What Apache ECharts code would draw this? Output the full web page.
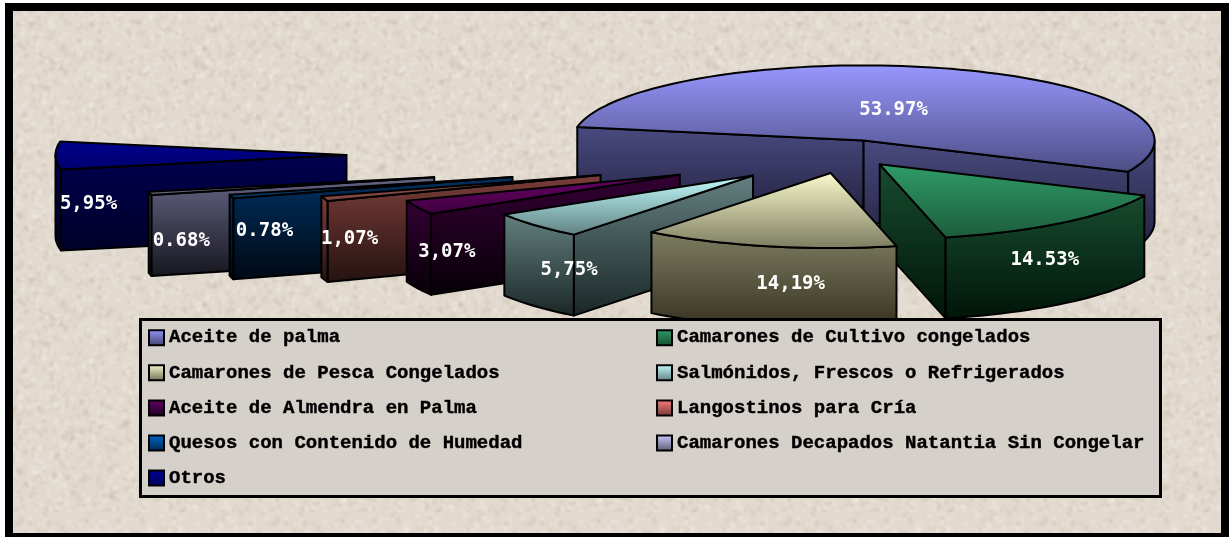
<!DOCTYPE html>
<html>
<head>
<meta charset="utf-8">
<title>Exportaciones</title>
<style>
  html, body { margin: 0; padding: 0; background: #fff; }
  #chart { width: 1230px; height: 537px; }
</style>
</head>
<body>
<div id="chart"></div>
<script src="https://cdn.jsdelivr.net/npm/echarts@6/dist/echarts.min.js"></script>
<script>
const categories = [
  'Aceite de palma',
  'Camarones de Cultivo congelados',
  'Camarones de Pesca Congelados',
  'Salmónidos, Frescos o Refrigerados',
  'Aceite de Almendra en Palma',
  'Langostinos para Cría',
  'Quesos con Contenido de Humedad',
  'Camarones Decapados Natantia Sin Congelar',
  'Otros'
];
const values = [53.97, 14.53, 14.19, 5.75, 3.07, 1.07, 0.78, 0.68, 5.95];
const valueLabels = ['53.97%', '14.53%', '14,19%', '5,75%', '3,07%', '1,07%', '0.78%', '0.68%', '5,95%'];

// how far each slice is pulled out of the pie, in radii
const explode = [0.19, 0.178, 0.26, 0.432, 0.638, 0.892, 1.19, 1.452, 1.72];
// label centre relative to the slice apex
const labelOffset = [[30, -30], [165, 96], [-40, 111], [-184, 95], [-233, 77], [-251, 64], [-248, 54], [-253, 64], [-258, 49]];
// light/dark ends of the vertical gradients
const topColors = [
  ['#9898ff', '#4c4c84'], ['#2f9c68', '#1c5c3c'], ['#fbfbce', '#7c7c60'],
  ['#c4ffff', '#5f8080'], ['#6a006a', '#3c003c'], ['#8c4c48', '#7c4440'],
  ['#004c90', '#003c70'], ['#70708c', '#606078'], ['#00008c', '#000070']
];
const wallColors = [
  ['#4a4a80', '#20203c'], ['#184c30', '#001408'], ['#7e7e62', '#35301f'],
  ['#648080', '#1a2626'], ['#340034', '#060006'], ['#7c3e3a', '#241210'],
  ['#003060', '#000814'], ['#646484', '#16161e'], ['#000050', '#000028']
];
const swatchColors = [
  ['#9898ff', '#40406c'], ['#2f9c68', '#154c30'], ['#fbfbce', '#6c6c54'],
  ['#c4ffff', '#5f8080'], ['#660066', '#200020'], ['#ff8080', '#703838'],
  ['#0066cc', '#002850'], ['#ccccff', '#585870'], ['#000090', '#000060']
];
// back to front
const drawOrder = [0, 1, 8, 7, 6, 5, 4, 3, 2];
const leftColumn = [0, 2, 4, 6, 8];
const rightColumn = [1, 3, 5, 7];

const CX = 847, CY = 154, RX = 291, RY = 75, DEPTH = 81;
const FIRST_ANGLE = -169.7; // screen degrees, clockwise from +x

const total = values.reduce((a, b) => a + b, 0);
const sliceAngles = [];
let acc = FIRST_ANGLE;
values.forEach(v => {
  const sweep = v / total * 360;
  sliceAngles.push([acc, acc + sweep]);
  acc += sweep;
});

function vGrad (c) {
  return new echarts.graphic.LinearGradient(0, 0, 0, 1, [
    { offset: 0, color: c[0] }, { offset: 1, color: c[1] }
  ]);
}
function rad (d) { return d * Math.PI / 180; }

function buildSlice (idx) {
  const start = sliceAngles[idx][0];
  const end = sliceAngles[idx][1];
  const mid = rad((start + end) / 2);
  const ax = CX + explode[idx] * RX * Math.cos(mid);
  const ay = CY + explode[idx] * RY * Math.sin(mid);
  const rim = d => [ax + RX * Math.cos(rad(d)), ay + RY * Math.sin(rad(d))];
  const down = p => [p[0], p[1] + DEPTH];
  const arc = (from, to) => {
    const pts = [];
    const n = Math.max(2, Math.ceil((to - from) / 2));
    for (let i = 0; i <= n; i++) pts.push(rim(from + (to - from) * i / n));
    return pts;
  };
  const children = [];
  const stroke = { stroke: '#000', lineWidth: 2, lineJoin: 'round' };
  const face = (points, colors) => children.push({
    type: 'polygon',
    shape: { points: points },
    style: Object.assign({ fill: vGrad(colors) }, stroke)
  });
  const apex = [ax, ay];

  // radial walls that look towards the viewer
  if (Math.sin(rad(start - 90)) > 0) {
    const p = rim(start);
    face([apex, p, down(p), down(apex)], wallColors[idx]);
  }
  if (Math.sin(rad(end + 90)) > 0) {
    const p = rim(end);
    face([apex, p, down(p), down(apex)], wallColors[idx]);
  }
  // outer wall, only the front half of the rim
  [-360, 0, 360].forEach(k => {
    const lo = Math.max(start, k);
    const hi = Math.min(end, k + 180);
    if (hi > lo) {
      const pts = arc(lo, hi);
      face(pts.concat(pts.map(down).reverse()), wallColors[idx]);
    }
  });
  // top
  face([apex].concat(arc(start, end)), topColors[idx]);
  // value label
  children.push({
    type: 'text',
    style: {
      x: ax + labelOffset[idx][0],
      y: ay + labelOffset[idx][1],
      text: valueLabels[idx],
      fill: '#fff',
      font: 'bold 19px "DejaVu Sans Mono"',
      align: 'center',
      verticalAlign: 'middle'
    }
  });
  return { type: 'group', children: children };
}

// paper texture for the plate behind the chart
function paperTile () {
  const size = 256;
  const c = document.createElement('canvas');
  c.width = c.height = size;
  const g = c.getContext('2d');
  g.fillStyle = '#e2dacf';
  g.fillRect(0, 0, size, size);
  let s = 12345;
  const next = () => (s = (s * 1664525 + 1013904223) % 4294967296) / 4294967296;
  g.filter = 'blur(1px)';
  for (let i = 0; i < 2600; i++) {
    const light = next() > 0.45;
    g.fillStyle = light ? 'rgba(240,234,226,0.5)' : 'rgba(200,186,170,0.3)';
    const w = 2 + Math.floor(next() * 4);
    const h = 2 + Math.floor(next() * 4);
    g.fillRect(Math.floor(next() * size), Math.floor(next() * size), w, h);
  }
  g.filter = 'none';
  return c;
}

const chart = echarts.init(document.getElementById('chart'));

const legendBase = {
  orient: 'vertical',
  top: 328,
  itemWidth: 15,
  itemHeight: 15,
  itemGap: 15.7,
  padding: 0,
  selectedMode: false,
  icon: 'rect',
  z: 5,
  textStyle: {
    color: '#000',
    fontFamily: 'Liberation Mono',
    fontWeight: 'bold',
    fontSize: 19,
    textBorderColor: '#000',
    textBorderWidth: 0.4
  }
};
const legendData = list => list.map(i => ({
  name: categories[i],
  itemStyle: { color: vGrad(swatchColors[i]), borderColor: '#000', borderWidth: 2 }
}));

chart.setOption({
  backgroundColor: '#fff',
  animation: false,
  tooltip: { show: false },
  legend: [
    Object.assign({}, legendBase, { left: 148, data: legendData(leftColumn) }),
    Object.assign({}, legendBase, { left: 656, data: legendData(rightColumn) })
  ],
  graphic: {
    elements: [
      {
        type: 'rect', z: 0, silent: true,
        shape: { x: 9, y: 7, width: 1216, height: 530 },
        style: { fill: { image: paperTile(), repeat: 'repeat' }, stroke: '#000', lineWidth: 8 }
      },
      {
        type: 'rect', z: 4, silent: true,
        shape: { x: 140.5, y: 319.5, width: 1020, height: 177 },
        style: { fill: '#d6d0ca', stroke: '#000', lineWidth: 3 }
      }
    ]
  },
  series: drawOrder.map(idx => ({
    type: 'custom',
    name: categories[idx],
    coordinateSystem: 'none',
    silent: true,
    z: 2,
    data: [values[idx]],
    renderItem: () => buildSlice(idx)
  }))
});
</script>
</body>
</html>
